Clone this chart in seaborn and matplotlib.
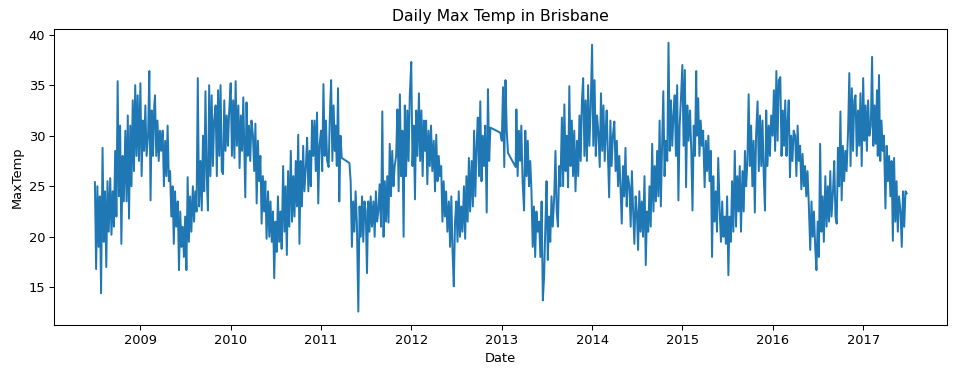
import numpy as np
import pandas as pd
import matplotlib
matplotlib.use("Agg")
import matplotlib.pyplot as plt
import seaborn as sns

nan = np.nan

# Six readings per month (days 1, 6, 11, 16, 21, 26); nan = no record (gap)
t2008 = [  # Jul-Dec
    25.4, 16.8, 25.0, 19.0, 24.0, 14.4,
    28.8, 19.5, 24.5, 17.0, 25.5, 20.5,
    25.8, 20.2, 24.5, 21.0, 28.5, 22.0,
    35.4, 24.0, 31.0, 19.3, 28.0, 23.5,
    30.5, 23.5, 32.0, 21.8, 31.0, 25.0,
    33.5, 26.5, 35.0, 28.0, 34.0, 27.5,
]
t2009 = [
    35.2, 26.0, 31.5, 28.5, 33.0, 28.0,
    30.0, 36.4, 23.6, 32.5, 28.0, 33.0,
    34.0, 28.0, 31.5, 27.5, 30.5, 28.5,
    30.5, 25.0, 29.5, 26.0, 31.0, 25.5,
    26.5, 22.0, 25.0, 19.3, 24.5, 21.0,
    23.5, 16.7, 22.5, 19.0, 21.0, 18.0,
    22.0, 16.7, 25.9, 19.5, 24.0, 20.5,
    25.0, 21.5, 24.5, 22.5, 35.7, 23.0,
    27.5, 22.6, 30.0, 24.5, 34.4, 26.0,
    22.6, 35.0, 26.0, 34.0, 27.0, 31.5,
    33.0, 26.0, 34.5, 28.0, 35.0, 26.5,
    26.2, 33.5, 28.5, 32.0, 29.0, 32.5,
]
t2010 = [
    35.2, 28.0, 33.5, 27.8, 35.4, 29.0,
    33.0, 26.8, 32.0, 28.5, 33.8, 27.5,
    23.9, 33.3, 28.0, 31.0, 27.5, 31.5,
    30.0, 26.5, 31.2, 23.3, 29.5, 25.5,
    28.0, 21.3, 26.0, 22.5, 25.5, 19.8,
    24.5, 20.0, 23.5, 19.5, 22.5, 15.9,
    21.5, 18.5, 24.0, 19.5, 22.5, 18.8,
    27.0, 20.5, 25.0, 18.2, 26.5, 21.0,
    28.5, 21.5, 26.0, 22.0, 27.5, 23.0,
    30.1, 19.3, 27.5, 23.0, 29.0, 24.5,
    27.0, 29.8, 24.5, 28.5, 25.0, 31.5,
    28.0, 31.5, 26.5, 32.3, 23.3, 29.0,
]
t2011 = [
    30.5, 26.5, 35.1, 28.0, 31.5, 27.5,
    26.9, 32.0, 35.5, 27.5, 33.0, 28.5,
    31.0, 27.0, 34.7, 23.5, 30.0, 27.8,
    nan, nan, nan, nan, nan, 27.3,
    25.5, 19.0, 23.5, 20.5, 24.5, 21.5,
    12.6, 23.0, 20.0, 24.0, 19.5, 23.5,
    22.5, 16.4, 23.5, 20.5, 24.0, 21.0,
    23.5, 20.0, 24.5, 21.5, 22.5, 25.2,
    21.0, 32.4, 20.0, 25.5, 21.5, 26.0,
    21.4, 29.2, 24.0, 28.5, 25.0, 27.0,
    28.0, 32.6, 24.5, 34.1, 26.0, 30.5,
    20.0, 33.0, 26.0, 32.5, 27.5, 34.0,
]
t2012 = [
    37.3, 27.0, 31.0, 23.7, 32.5, 28.0,
    34.2, 27.5, 32.5, 26.0, 31.5, 28.5,
    31.5, 25.2, 30.5, 27.0, 31.0, 26.5,
    29.5, 24.5, 30.1, 25.5, 28.0, 26.0,
    27.0, 21.5, 25.5, 22.0, 24.5, 20.5,
    23.5, 19.0, 24.0, 18.5, 15.1, 21.5,
    23.5, 19.5, 24.5, 20.0, 23.0, 20.5,
    25.0, 19.8, 26.0, 21.5, 27.8, 22.5,
    27.5, 23.0, 30.5, 24.0, 29.0, 31.8,
    26.0, 33.4, 25.5, 30.0, 27.0, 31.0,
    22.4, 34.6, 27.5, 30.8, nan, nan,
    nan, nan, nan, nan, nan, 30.3,
]
t2013 = [
    29.5, 34.8, 26.9, 35.5, 30.5, 28.3,
    nan, nan, nan, nan, nan, 26.9,
    32.6, 26.0, 30.5, 27.5, 31.0, 25.5,
    22.6, 30.5, 26.0, 29.5, 25.0, 27.5,
    24.5, 19.0, 23.0, 18.0, 22.5, 20.5,
    21.5, 18.0, 23.5, 13.7, 16.0, 21.0,
    25.5, 17.7, 22.0, 19.5, 24.0, 21.0,
    24.0, 28.5, 22.5, 21.0, 27.0, 25.0,
    31.8, 25.0, 33.1, 26.5, 30.0, 24.9,
    34.9, 27.0, 31.5, 26.0, 30.5, 24.5,
    29.5, 26.0, 32.0, 27.5, 33.5, 35.7,
    28.0, 33.5, 27.5, 35.0, 29.0, 32.5,
]
t2014 = [
    39.0, 29.0, 35.5, 28.0, 32.0, 30.5,
    26.9, 34.2, 28.5, 33.0, 27.5, 31.0,
    32.5, 28.0, 23.9, 31.5, 27.0, 30.0,
    31.4, 26.5, 29.5, 25.0, 28.0, 24.9,
    21.3, 27.0, 24.0, 28.8, 23.0, 26.0,
    25.0, 21.0, 26.5, 22.5, 19.3, 24.0,
    22.5, 18.7, 24.5, 20.5, 23.5, 20.0,
    26.0, 17.2, 22.5, 20.5, 25.0, 21.0,
    29.2, 22.5, 27.0, 23.5, 28.5, 24.0,
    31.5, 23.0, 29.0, 34.4, 26.0, 29.5,
    27.5, 39.2, 28.5, 33.5, 29.0, 32.0,
    34.0, 28.0, 35.0, 23.6, 31.0, 33.5,
]
t2015 = [
    37.0, 29.0, 36.5, 24.9, 33.0, 29.5,
    32.5, 28.5, 22.6, 31.0, 28.0, 36.4,
    30.0, 33.7, 28.0, 31.5, 29.0, 30.5,
    24.9, 29.5, 26.5, 30.0, 25.5, 28.5,
    18.0, 26.0, 21.5, 24.5, 20.5, 27.8,
    22.5, 19.5, 23.5, 20.0, 22.0, 19.3,
    24.0, 16.2, 22.0, 19.5, 25.5, 20.5,
    28.5, 21.0, 26.0, 22.5, 27.0, 20.5,
    26.5, 22.5, 28.5, 25.0, 27.5, 34.1,
    27.0, 31.0, 25.0, 29.5, 22.4, 30.0,
    33.4, 26.5, 32.0, 27.0, 31.5, 26.0,
    22.6, 32.5, 27.0, 31.0, 28.0, 32.0,
]
t2016 = [
    30.0, 34.5, 28.5, 36.4, 29.5, 35.5,
    35.8, 28.0, 32.5, 29.0, 33.5, 28.0,
    31.0, 33.5, 25.9, 30.0, 27.5, 30.5,
    30.0, 26.0, 31.0, 27.5, 29.0, 24.7,
    28.2, 25.0, 27.0, 24.0, 26.5, 23.3,
    18.7, 23.5, 20.0, 22.5, 19.0, 16.7,
    21.5, 18.0, 29.2, 20.5, 24.0, 19.5,
    26.0, 21.0, 25.0, 21.5, 26.5, 22.0,
    24.5, 27.5, 22.0, 21.3, 28.8, 25.0,
    32.4, 23.6, 29.0, 25.5, 28.5, 26.5,
    30.5, 36.2, 27.0, 34.7, 28.5, 33.5,
    34.0, 28.0, 32.5, 29.0, 34.2, 27.0,
]
t2017 = [  # Jan-Jun
    35.7, 29.5, 33.0, 28.5, 33.5, 30.0,
    31.0, 37.8, 29.0, 33.0, 29.2, 34.5,
    28.0, 36.0, 27.5, 31.5, 28.5, 30.0,
    22.8, 29.0, 25.5, 28.0, 24.0, 27.5,
    19.6, 27.8, 21.5, 25.5, 20.5, 24.0,
    22.5, 19.0, 24.5, 21.0, 24.5, 24.3,
]

series = [
    (2008, 7, t2008), (2009, 1, t2009), (2010, 1, t2010), (2011, 1, t2011),
    (2012, 1, t2012), (2013, 1, t2013), (2014, 1, t2014), (2015, 1, t2015),
    (2016, 1, t2016), (2017, 1, t2017),
]

rows = []
for year, m0, vals in series:
    for k, v in enumerate(vals):
        m = m0 + k // 6
        d = 1 + 5 * (k % 6)
        rows.append((pd.Timestamp(year, m, d), v))
df = pd.DataFrame(rows, columns=["Date", "MaxTemp"]).dropna()

DPI = 94
fig = plt.figure(figsize=(956 / DPI, 375 / DPI), dpi=DPI)
ax = fig.add_axes([0.0568, 0.1333, 0.9341, 0.7886])
sns.lineplot(data=df, x="Date", y="MaxTemp", ax=ax, estimator=None,
             color="#1f77b4", linewidth=1.5)
ax.set_title("Daily Max Temp in Brisbane")
ax.set_xlabel("Date")
ax.set_ylabel("MaxTemp")
fig.savefig("out.png", dpi=DPI)
